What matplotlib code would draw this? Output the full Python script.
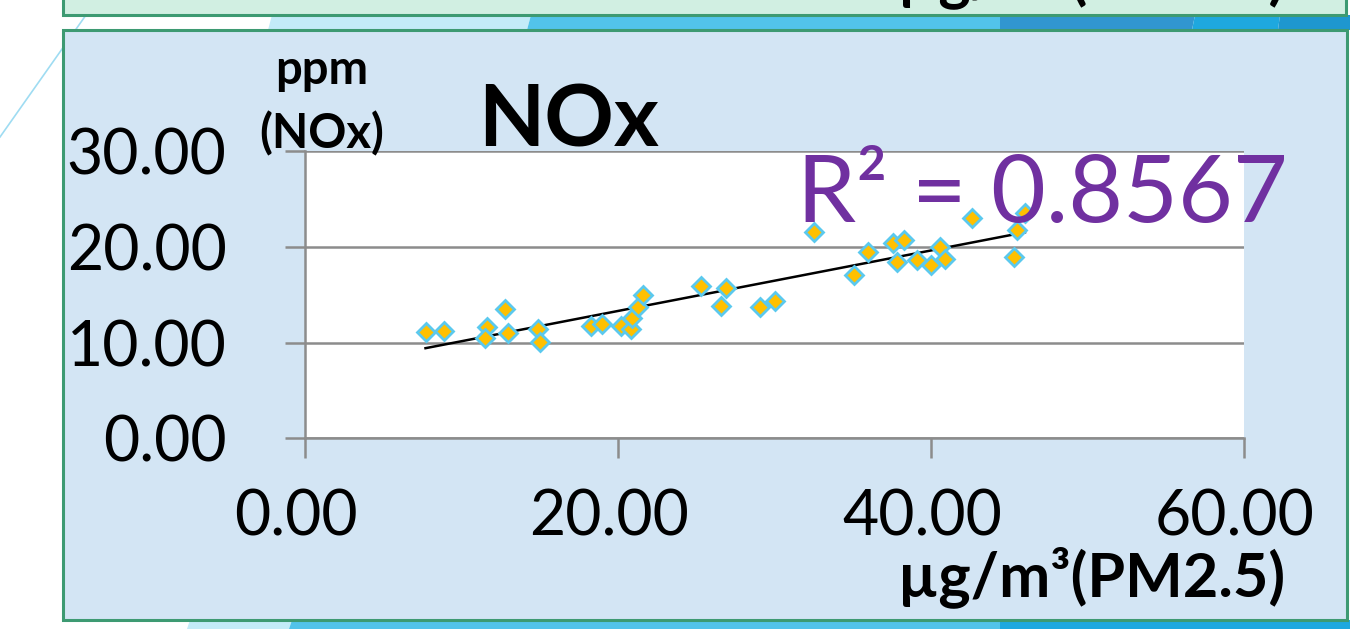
import numpy as np
import matplotlib
matplotlib.use("Agg")
import matplotlib.pyplot as plt
from matplotlib.patches import Rectangle, Polygon
from matplotlib.transforms import Affine2D, ScaledTranslation
from matplotlib.lines import Line2D

plt.rcParams['font.family'] = ['Lato', 'DejaVu Sans']

# PM2.5 concentration (µg/m³) vs NOx (ppm)
pm25 = [7.7, 8.9, 11.6, 11.5, 12.8, 13.0, 14.9, 15.0, 18.3, 19.0, 20.2, 20.8,
        20.9, 21.3, 21.6, 25.3, 26.6, 26.9, 29.1, 30.0, 32.5, 35.1, 36.0, 37.6,
        38.3, 37.8, 39.1, 40.0, 40.6, 40.9, 42.6, 46.0, 45.5, 45.3]
nox = [11.1, 11.2, 11.6, 10.5, 13.5, 11.0, 11.4, 10.1, 11.7, 11.9, 11.7, 11.4,
       12.6, 13.7, 15.0, 15.9, 13.8, 15.7, 13.7, 14.3, 21.5, 17.1, 19.5, 20.4,
       20.7, 18.4, 18.6, 18.1, 20.0, 18.7, 23.0, 23.5, 21.7, 18.9]

x_ticks = [0, 20, 40, 60]
y_ticks = [0, 10, 20, 30]
tick_labels_x = ["0.00", "20.00", "40.00", "60.00"]
tick_labels_y = ["0.00", "10.00", "20.00", "30.00"]
r2_label = "R² = 0.8567"

W, H = 1350, 629
fig = plt.figure(figsize=(W / 100, H / 100), dpi=100)
fig.patch.set_facecolor("white")

# pixel coordinates measured from the top-left corner of the slide
px = Affine2D().scale(1 / W, -1 / H).translate(0, 1) + fig.transFigure


def poly(pts, color, z=0, **kw):
    p = Polygon(pts, closed=True, transform=px, facecolor=color,
                edgecolor="none", zorder=z, **kw)
    fig.patches.append(p)
    return p


# decorative bands between the panels
poly([(272, 15), (531, 15), (527, 30), (268, 30)], "#c3ebf8")
poly([(531, 15), (1000, 15), (1000, 30), (527, 30)], "#52c3ea")
poly([(1000, 15), (1195, 15), (1192, 30), (1000, 30)], "#3196d0")
poly([(1195, 15), (1280, 15), (1278, 30), (1192, 30)], "#1ea8df")
poly([(1280, 15), (1350, 15), (1350, 30), (1278, 30)], "#1e97cf")
# bottom strip
poly([(190, 620), (292, 620), (289, 629), (187, 629)], "#c3ebf8")
poly([(292, 620), (1000, 620), (1000, 629), (289, 629)], "#52c3ea")
poly([(1000, 620), (1350, 620), (1350, 629), (1000, 629)], "#1ea8df")
# thin diagonal accent line
fig.lines.append(Line2D([86, 0], [15, 137], transform=px, color="#9fdcf2",
                        lw=1.2, zorder=1))

# upper panel (cut off at the top)
upper = Rectangle((63, -20), 1283, 35, transform=px, facecolor="#d1efe2",
                  edgecolor="#3d9a72", lw=2.2, zorder=2)
fig.patches.append(upper)
t_up = fig.text(1285 / W, 1.004, "µg/m³(PM2.5)", ha="right", va="baseline",
                fontsize=44, fontweight="bold", color="black", zorder=3)
t_up.set_clip_path(upper)

# main panel
main = Rectangle((63, 30), 1284, 590, transform=px, facecolor="#d3e5f4",
                 edgecolor="#3d9a72", lw=2.2, zorder=2)
fig.patches.append(main)

ax = fig.add_axes([305 / W, (H - 438.3) / H, (1244 - 305) / W, (438.3 - 151) / H],
                  zorder=5)
ax.set_facecolor("white")
ax.set_xlim(0, 60)
ax.set_ylim(0, 30)
grid_c = "#8c8c8c"
for s in ["top", "right"]:
    ax.spines[s].set_visible(False)
for s in ["left", "bottom"]:
    ax.spines[s].set_color(grid_c)
    ax.spines[s].set_linewidth(1.8)
ax.set_xticks(x_ticks)
ax.set_xticklabels(tick_labels_x)
ax.set_yticks(y_ticks)
ax.set_yticklabels(tick_labels_y)
ax.tick_params(axis="both", direction="out", length=14.4, width=1.8,
               color=grid_c, labelsize=45, labelcolor="black")
ax.tick_params(axis="y", pad=42)
ax.tick_params(axis="x", pad=22)
for lab in ax.get_xticklabels():
    lab.set_transform(lab.get_transform() +
                      ScaledTranslation(-9 / 100, 0, fig.dpi_scale_trans))
ax.yaxis.grid(True, color=grid_c, lw=1.8)
ax.set_axisbelow(True)

# linear trend line
coef = np.polyfit(pm25, nox, 1)
xf = np.array([min(pm25), max(pm25)])
ax.plot(xf, np.polyval(coef, xf), color="black", lw=1.8, zorder=3)

ax.plot(pm25, nox, linestyle="none", marker="D", markersize=9.5,
        markerfacecolor="#ffc000", markeredgecolor="#5bc9ee",
        markeredgewidth=2.0, zorder=4, clip_on=False)

# titles and labels
fig.text(322 / W, 1 - 84 / H, "ppm", ha="center", va="baseline",
         fontsize=34, fontweight="bold", zorder=6)
fig.text(322 / W, 1 - 148 / H, "(NOx)", ha="center", va="baseline",
         fontsize=34, fontweight="bold", zorder=6)
fig.text(569 / W, 1 - 147 / H, "NOx", ha="center", va="baseline",
         fontsize=62, fontweight="bold", zorder=6)
fig.text(797 / W, 1 - 222 / H, r2_label, ha="left", va="baseline",
         fontsize=68, color="#7030a0", zorder=7)
fig.text(1285 / W, 1 - 596 / H, "µg/m³(PM2.5)", ha="right", va="baseline",
         fontsize=44, fontweight="bold", zorder=6)

fig.savefig("out.png", dpi=100)
